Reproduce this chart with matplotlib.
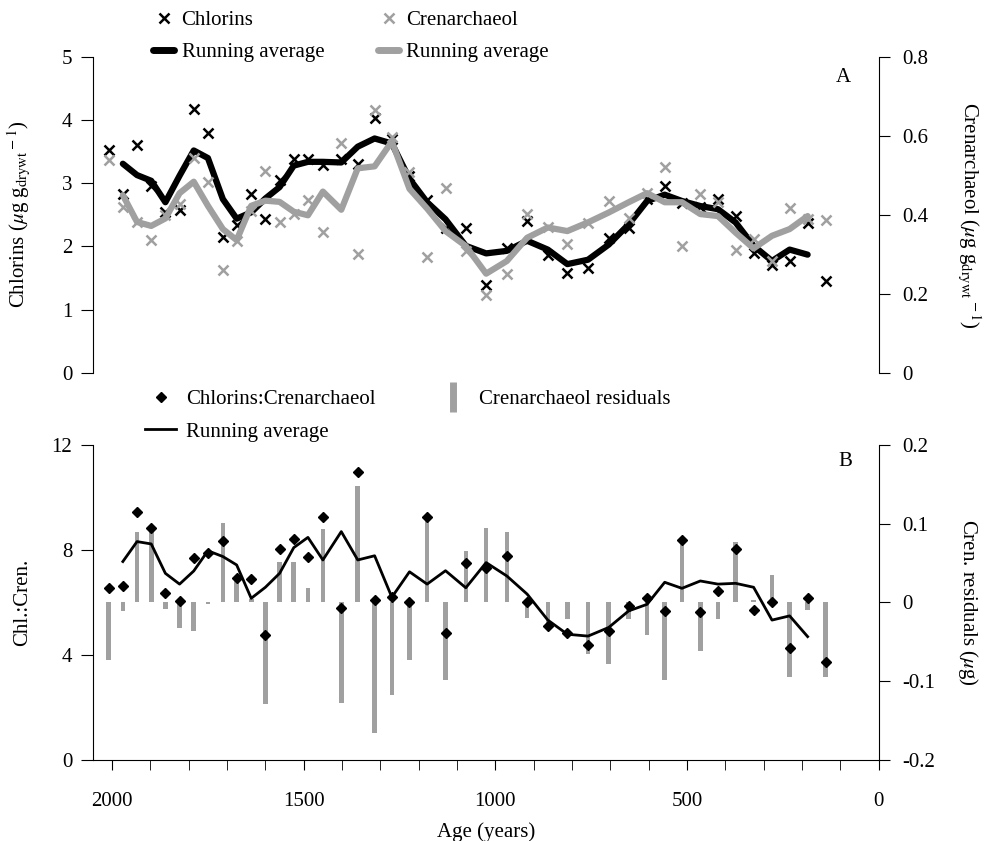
import matplotlib
matplotlib.use("Agg")
import matplotlib.pyplot as plt
from matplotlib.lines import Line2D

plt.rcParams['font.family'] = ['Liberation Serif', 'DejaVu Serif']
plt.rcParams['mathtext.fontset'] = 'stix'
plt.rcParams['font.size'] = 15
plt.rcParams['axes.unicode_minus'] = False

# sample ages (years)
ages = [2009, 1972, 1935, 1898, 1861, 1824, 1787, 1750, 1711, 1675, 1637,
        1600, 1563, 1526, 1489, 1450, 1402, 1359, 1315, 1270, 1224, 1178,
        1130, 1077, 1024, 970, 917, 863, 812, 758, 704, 652, 604, 558, 513,
        465, 419, 373, 326, 278, 232, 185, 138]
# running averages start/end one sample in
ra_ages = ages[1:-1]

chlorins = [3.53, 2.83, 3.61, 2.95, 2.54, 2.57, 4.17, 3.80, 2.15, 2.34, 2.83,
            2.43, 3.05, 3.39, 3.39, 3.29, 3.39, 3.31, 4.04, 3.70, 3.12, 2.73,
            2.30, 2.29, 1.39, 1.98, 2.40, 1.87, 1.58, 1.66, 2.14, 2.30, 2.75,
            2.95, 2.69, 2.62, 2.75, 2.48, 1.90, 1.70, 1.77, 2.37, 1.45]
chl_ra = [3.31, 3.13, 3.04, 2.70, 3.12, 3.52, 3.40, 2.75, 2.44, 2.54, 2.76,
          2.94, 3.28, 3.34, 3.34, 3.33, 3.58, 3.71, 3.63, 3.07, 2.70, 2.43,
          2.01, 1.89, 1.93, 2.09, 1.95, 1.72, 1.79, 2.03, 2.35, 2.72, 2.82,
          2.72, 2.64, 2.59, 2.38, 2.01, 1.77, 1.95, 1.87]

cren = [0.538, 0.421, 0.382, 0.336, 0.399, 0.427, 0.544, 0.483, 0.260, 0.334,
        0.411, 0.511, 0.382, 0.402, 0.437, 0.357, 0.582, 0.300, 0.667, 0.597,
        0.508, 0.293, 0.467, 0.308, 0.196, 0.251, 0.402, 0.370, 0.325, 0.379,
        0.434, 0.393, 0.455, 0.521, 0.321, 0.453, 0.432, 0.310, 0.338, 0.283,
        0.417, 0.389, 0.387]
cren_ra = [0.450, 0.382, 0.372, 0.391, 0.455, 0.484, 0.423, 0.364, 0.336,
           0.423, 0.436, 0.433, 0.408, 0.399, 0.459, 0.413, 0.518, 0.523,
           0.586, 0.466, 0.416, 0.359, 0.321, 0.251, 0.283, 0.342, 0.368,
           0.359, 0.381, 0.406, 0.432, 0.455, 0.432, 0.432, 0.402, 0.397,
           0.355, 0.315, 0.347, 0.364, 0.397]

ratio = [6.56, 6.64, 9.45, 8.83, 6.37, 6.07, 7.68, 7.87, 8.34, 6.92, 6.88,
         4.76, 8.04, 8.41, 7.72, 9.27, 5.80, 10.98, 6.10, 6.22, 6.03, 9.27,
         4.85, 7.49, 7.30, 7.77, 6.03, 5.12, 4.85, 4.38, 4.91, 5.87, 6.18,
         5.68, 8.38, 5.65, 6.44, 8.03, 5.71, 6.03, 4.26, 6.16, 3.75]
ratio_ra = [7.56, 8.32, 8.23, 7.11, 6.70, 7.20, 7.97, 7.75, 7.43, 6.16, 6.58,
            7.11, 8.09, 8.48, 7.62, 8.70, 7.62, 7.78, 6.20, 7.17, 6.70, 7.21,
            6.56, 7.52, 7.01, 6.32, 5.33, 4.79, 4.72, 5.05, 5.68, 5.93, 6.77,
            6.54, 6.82, 6.70, 6.73, 6.58, 5.33, 5.49, 4.70]

residuals = [-0.073, -0.011, 0.089, 0.089, -0.008, -0.033, -0.036, -0.002,
             0.101, 0.028, 0.004, -0.129, 0.052, 0.052, 0.018, 0.093, -0.128,
             0.148, -0.166, -0.118, -0.073, 0.107, -0.099, 0.066, 0.094, 0.090,
             -0.020, -0.032, -0.021, -0.065, -0.078, -0.021, -0.041, -0.098,
             0.078, -0.061, -0.021, 0.077, 0.003, 0.035, -0.094, -0.009, -0.095]

grey = '#a0a0a0'
gunit = r'($\mu$g g$_{\rm drywt}$$^{\rm -1}$)'

fig = plt.figure(figsize=(9.9, 8.41), dpi=100)

# ---- panel A
ax1 = fig.add_axes([0.0939, 0.5568, 0.7935, 0.3754])
ax2 = ax1.twinx()
for a in (ax1, ax2):
    a.set_xlim(2050, 0)
    a.spines['top'].set_visible(False)
    a.spines['bottom'].set_visible(False)
    a.tick_params(axis='x', bottom=False, labelbottom=False)
ax1.spines['right'].set_visible(False)
ax2.spines['left'].set_visible(False)

ax1.plot(ages, chlorins, ls='none', marker='x', color='black', ms=7, mew=1.8)
ax2.plot(ages, cren, ls='none', marker='x', color=grey, ms=7, mew=1.8)
ax1.plot(ra_ages, chl_ra, color='black', lw=4.5, solid_capstyle='round',
         solid_joinstyle='round')
ax2.plot(ra_ages, cren_ra, color=grey, lw=4.5, solid_capstyle='round',
         solid_joinstyle='round')

ax1.set_ylim(0, 5)
ax1.set_yticks([0, 1, 2, 3, 4, 5])
ax2.set_ylim(0, 0.8)
ax2.set_yticks([0, 0.2, 0.4, 0.6, 0.8])
ax2.set_yticklabels(['0', '0.2', '0.4', '0.6', '0.8'])
ax1.tick_params(axis='y', length=9, pad=6)
ax2.tick_params(axis='y', length=8, pad=9)
ax1.set_ylabel('Chlorins ' + gunit)
ax1.yaxis.set_label_coords(-0.077, 0.5)
ax2.set_ylabel('Crenarchaeol ' + gunit, rotation=270, va='bottom')
ax2.yaxis.set_label_coords(1.099, 0.5)
ax1.text(0.955, 0.935, 'A', transform=ax1.transAxes, ha='center', va='center')

h_top = [Line2D([], [], ls='none', marker='x', color='black', ms=7, mew=1.8),
         Line2D([], [], color='black', lw=5, solid_capstyle='round'),
         Line2D([], [], ls='none', marker='x', color=grey, ms=7, mew=1.8),
         Line2D([], [], color=grey, lw=5, solid_capstyle='round')]
fig.legend(h_top, ['Chlorins', 'Running average', 'Crenarchaeol', 'Running average'],
           ncol=2, loc='upper left', bbox_to_anchor=(143 / 990, 1 - 0 / 841),
           frameon=False, borderpad=0, handlelength=1.0, handletextpad=0.35,
           columnspacing=2.6, labelspacing=0.62, numpoints=1)

# ---- panel B
ax3 = fig.add_axes([0.0939, 0.0963, 0.7935, 0.3746])
ax4 = ax3.twinx()
for a in (ax3, ax4):
    a.set_xlim(2050, 0)
    a.spines['top'].set_visible(False)
ax3.spines['right'].set_visible(False)
ax4.spines['left'].set_visible(False)
ax4.spines['bottom'].set_visible(False)
ax3.set_zorder(ax4.get_zorder() + 1)
ax3.patch.set_visible(False)

ax4.bar(ages, residuals, width=12, color=grey, linewidth=0)
ax3.plot(ra_ages, ratio_ra, color='black', lw=2)
ax3.plot(ages, ratio, ls='none', marker='D', color='black', ms=5.5)

ax3.set_ylim(0, 12)
ax3.set_yticks([0, 4, 8, 12])
ax4.set_ylim(-0.2, 0.2)
ax4.set_yticks([-0.2, -0.1, 0, 0.1, 0.2])
ax4.set_yticklabels(['-0.2', '-0.1', '0', '0.1', '0.2'])
ax3.set_xticks([2000, 1500, 1000, 500, 0])
ax3.set_xticks(list(range(0, 2001, 100)), minor=True)
ax3.tick_params(axis='x', which='both', length=7, pad=16)
ax3.tick_params(axis='y', length=9, pad=6)
ax4.tick_params(axis='y', length=8, pad=9)
ax3.set_xlabel('Age (years)', labelpad=8)
ax3.set_ylabel('Chl.:Cren.')
ax3.yaxis.set_label_coords(-0.077, 0.5)
ax4.set_ylabel(r'Cren. residuals ($\mu$g)', rotation=270, va='bottom')
ax4.yaxis.set_label_coords(1.099, 0.5)
ax3.text(0.958, 0.948, 'B', transform=ax3.transAxes, ha='center', va='center')

h_bot = [Line2D([], [], ls='none', marker='D', color='black', ms=5.5),
         Line2D([], [], color='black', lw=2),
         Line2D([], [], ls='none', marker='|', color=grey, ms=22, mew=5)]
fig.legend(h_bot, ['Chlorins:Crenarchaeol', 'Running average', 'Crenarchaeol residuals'],
           ncol=2, loc='upper left', bbox_to_anchor=(135 / 990, 1 - 379 / 841),
           frameon=False, borderpad=0, handlelength=1.45, handletextpad=0.5,
           columnspacing=3.0, labelspacing=0.62, numpoints=1)

fig.savefig('out.png', dpi=100)
